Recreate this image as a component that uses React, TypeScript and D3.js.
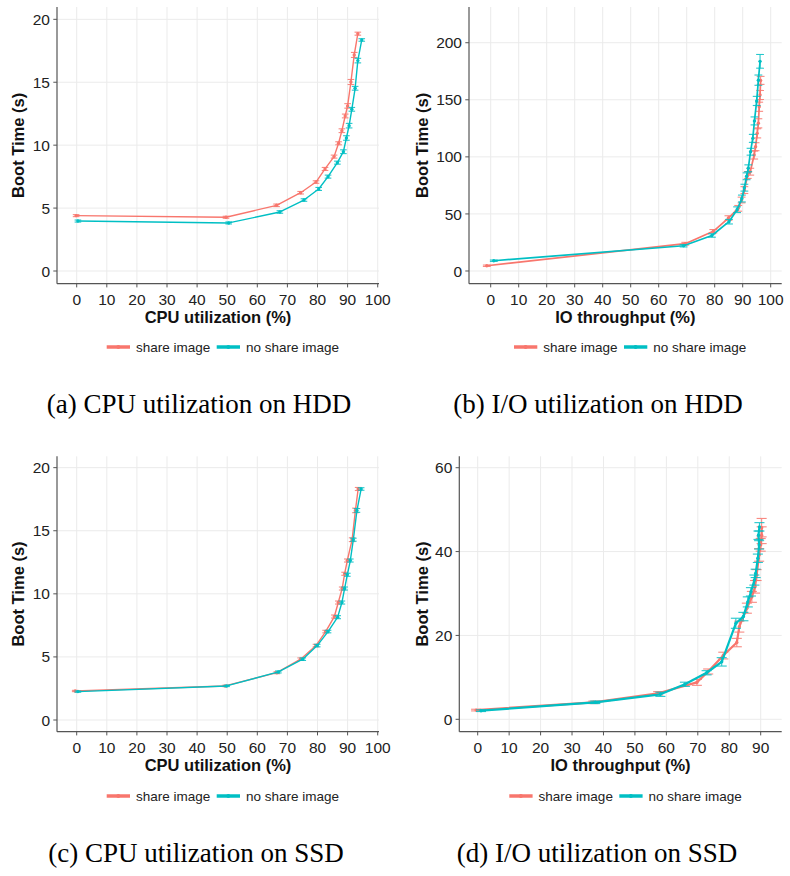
import React from 'react';
import * as d3 from 'd3';

type P = [number, number, number]; // x, y, error

const seriesNames = ['share image', 'no share image'];
const seriesColors = ['#F8766D', '#00BFC4'];

// (a) CPU utilization on HDD
const cpuHddShare: P[] = [
  [-0.2, 4.4, 0.08], [49.6, 4.27, 0.08], [66.4, 5.22, 0.1], [74.4, 6.22, 0.1], [79.5, 7.07, 0.1],
  [82.5, 8.11, 0.12], [85.5, 9.09, 0.12], [87.0, 10.15, 0.12], [88.1, 11.15, 0.15], [89.2, 12.32, 0.15],
  [90.0, 13.12, 0.18], [91.1, 15.02, 0.2], [92.2, 17.17, 0.2], [93.4, 18.86, 0.12],
];
const cpuHddNoShare: P[] = [
  [0.4, 3.97, 0.08], [50.5, 3.82, 0.08], [67.5, 4.69, 0.1], [75.5, 5.64, 0.1], [80.4, 6.52, 0.12],
  [83.5, 7.5, 0.12], [86.6, 8.61, 0.12], [88.6, 9.48, 0.15], [89.6, 10.57, 0.18], [90.5, 11.55, 0.18],
  [91.4, 12.85, 0.15], [92.5, 14.52, 0.15], [93.4, 16.72, 0.18], [94.7, 18.36, 0.1],
];

// (b) I/O utilization on HDD
const ioHddShare: P[] = [
  [-1.4, 4.6, 0.6], [69.5, 23.9, 1.2], [79.5, 34.8, 1.5], [84.9, 46.4, 2], [88.4, 54.9, 2.5],
  [89.6, 62.2, 2.5], [90.6, 70.9, 3], [91.8, 84.1, 3], [92.7, 87.0, 3], [94.1, 101.6, 3.5],
  [94.6, 108.9, 3.5], [95.2, 120.6, 4], [95.6, 129.4, 4], [95.9, 143.9, 4], [96.2, 154.2, 4], [96.4, 167.0, 3.5],
];
const ioHddNoShare: P[] = [
  [1.1, 9.0, 0.6], [68.9, 22.1, 1], [79.0, 31.1, 1.5], [85.1, 43.2, 2], [88.0, 53.7, 2.5],
  [89.7, 63.5, 3], [90.6, 73.0, 3], [91.4, 83.0, 3], [92.0, 90.0, 3], [92.8, 104.5, 3],
  [93.6, 116.2, 3.5], [94.2, 131.5, 3.5], [95.0, 149.0, 4], [95.6, 167.2, 4.5], [96.2, 183.7, 6],
];

// (c) CPU utilization on SSD
const cpuSsdShare: P[] = [
  [-0.5, 2.3, 0.05], [49.3, 2.7, 0.05], [66.5, 3.75, 0.08], [74.4, 4.82, 0.1], [79.5, 5.9, 0.1],
  [82.7, 7.01, 0.1], [85.6, 8.2, 0.12], [86.9, 9.31, 0.12], [88.2, 10.42, 0.12], [89.0, 11.59, 0.12],
  [89.9, 12.64, 0.12], [91.5, 14.29, 0.15], [92.6, 16.61, 0.18], [93.5, 18.31, 0.12],
];
const cpuSsdNoShare: P[] = [
  [0.4, 2.25, 0.05], [49.8, 2.7, 0.05], [67.0, 3.81, 0.08], [75.1, 4.82, 0.1], [79.9, 5.9, 0.1],
  [83.5, 7.01, 0.1], [86.7, 8.15, 0.12], [88.1, 9.31, 0.12], [89.0, 10.42, 0.12], [89.9, 11.51, 0.12],
  [90.9, 12.64, 0.12], [91.9, 14.29, 0.12], [93.1, 16.61, 0.15], [94.5, 18.31, 0.1],
];

// (d) I/O utilization on SSD
const ioSsdShare: P[] = [
  [-0.5, 2.2, 0.2], [36.8, 4.05, 0.3], [57.4, 6.2, 0.4], [69.7, 8.8, 0.7], [73.3, 11.4, 0.6],
  [78.1, 15.2, 0.8], [82.4, 18.3, 1], [83.2, 22.1, 1.3], [85.6, 26.5, 1.2], [87.2, 29.2, 1.3],
  [88.2, 31.6, 1.5], [88.7, 34.4, 1.3], [89.5, 39.2, 1.5], [90.0, 41.6, 1.5], [90.3, 43.9, 2], [90.3, 45.7, 2.2],
];
const ioSsdNoShare: P[] = [
  [1.05, 2.05, 0.2], [37.4, 4.05, 0.3], [58.1, 5.96, 0.5], [65.9, 8.35, 0.5], [72.8, 11.1, 0.5],
  [77.6, 13.7, 1], [82.1, 22.9, 1.2], [84.5, 24.5, 1], [85.9, 28.0, 1.2], [86.9, 30.4, 1],
  [88.0, 33.2, 1.2], [88.4, 34.8, 1], [89.1, 38.4, 1], [89.5, 41.6, 1], [89.3, 43.9, 1], [89.6, 45.9, 1],
];

const xTicks100 = [0, 10, 20, 30, 40, 50, 60, 70, 80, 90, 100];
const xTicks90 = [0, 10, 20, 30, 40, 50, 60, 70, 80, 90];
const yTicksCpu = [0, 5, 10, 15, 20];
const yTicksIoHdd = [0, 50, 100, 150, 200];
const yTicksIoSsd = [0, 20, 40, 60];

const xTitles = ['CPU utilization (%)', 'IO throughput (%)', 'CPU utilization (%)', 'IO throughput (%)'];
const yTitle = 'Boot Time (s)';
const captions = ['(a) CPU utilization on HDD', '(b) I/O utilization on HDD', '(c) CPU utilization on SSD', '(d) I/O utilization on SSD'];

interface PanelCfg {
  left: number; right: number; top: number; bottom: number;
  xDomain: [number, number]; yDomain: [number, number];
  xTicks: number[]; yTicks: number[];
  series: P[][]; xTitle: string; caption: string;
  yTitleX: number; legendX: number; legendY: number;
  captionX: number; captionY: number; capW: number; lineW: number;
}

const panels: PanelCfg[] = [
  {
    left: 57, right: 379, top: 7, bottom: 283.7, xDomain: [-6.545, 100.43], yDomain: [-1.009, 20.98],
    xTicks: xTicks100, yTicks: yTicksCpu, series: [cpuHddShare, cpuHddNoShare], xTitle: xTitles[0], caption: captions[0],
    yTitleX: 24, legendX: 106.7, legendY: 347, captionX: 199, captionY: 413, capW: 2.2, lineW: 1.4,
  },
  {
    left: 469, right: 781.7, top: 7, bottom: 283.7, xDomain: [-7.75, 103.93], yDomain: [-11.13, 231.3],
    xTicks: xTicks100, yTicks: yTicksIoHdd, series: [ioHddShare, ioHddNoShare], xTitle: xTitles[1], caption: captions[1],
    yTitleX: 427.5, legendX: 514, legendY: 347, captionX: 598, captionY: 413, capW: 2.8, lineW: 1.7,
  },
  {
    left: 57, right: 379, top: 456.3, bottom: 731.7, xDomain: [-6.545, 100.43], yDomain: [-0.927, 20.9],
    xTicks: xTicks100, yTicks: yTicksCpu, series: [cpuSsdShare, cpuSsdNoShare], xTitle: xTitles[2], caption: captions[2],
    yTitleX: 24, legendX: 106.7, legendY: 796, captionX: 196, captionY: 862, capW: 2.2, lineW: 1.4,
  },
  {
    left: 459.3, right: 781.7, top: 456.3, bottom: 731.7, xDomain: [-5.85, 96.68], yDomain: [-2.957, 62.72],
    xTicks: xTicks90, yTicks: yTicksIoSsd, series: [ioSsdShare, ioSsdNoShare], xTitle: xTitles[3], caption: captions[3],
    yTitleX: 427.5, legendX: 509.3, legendY: 796, captionX: 597, captionY: 862, capW: 3.2, lineW: 2.2,
  },
];

const SANS = '"Liberation Sans", Arial, Helvetica, sans-serif';
const SERIF = '"Liberation Serif", "Times New Roman", serif';

function Panel({ cfg }: { cfg: PanelCfg }) {
  const x = d3.scaleLinear().domain(cfg.xDomain).range([cfg.left, cfg.right]);
  const y = d3.scaleLinear().domain(cfg.yDomain).range([cfg.bottom, cfg.top]);
  const line = d3.line<P>().x((d) => x(d[0])).y((d) => y(d[1]));
  const cx = (cfg.left + cfg.right) / 2;
  const cy = (cfg.top + cfg.bottom) / 2;
  return (
    <g>
      {/* grid */}
      {cfg.xTicks.map((t) => (
        <line key={'gx' + t} x1={x(t)} x2={x(t)} y1={cfg.top} y2={cfg.bottom} stroke="#ebebeb" strokeWidth={1} />
      ))}
      {cfg.yTicks.map((t) => (
        <line key={'gy' + t} x1={cfg.left} x2={cfg.right} y1={y(t)} y2={y(t)} stroke="#ebebeb" strokeWidth={1} />
      ))}
      {/* series */}
      {cfg.series.map((s, i) => (
        <g key={'s' + i}>
          <path d={line(s) || ''} fill="none" stroke={seriesColors[i]} strokeWidth={cfg.lineW} strokeLinejoin="round" />
          {s.map((d, j) => {
            const xl = x(d[0] - cfg.capW / 2);
            const xr = x(d[0] + cfg.capW / 2);
            const yt = y(d[1] + d[2]);
            const yb = y(d[1] - d[2]);
            return (
              <g key={j} stroke={seriesColors[i]} strokeWidth={1.1} opacity={0.85}>
                <line x1={x(d[0])} x2={x(d[0])} y1={yt} y2={yb} />
                <line x1={xl} x2={xr} y1={yt} y2={yt} />
                <line x1={xl} x2={xr} y1={yb} y2={yb} />
              </g>
            );
          })}
          {s.map((d, j) => (
            <circle key={'p' + j} cx={x(d[0])} cy={y(d[1])} r={1.7} fill={seriesColors[i]} />
          ))}
        </g>
      ))}
      {/* axes */}
      <line x1={cfg.left} x2={cfg.left} y1={cfg.top} y2={cfg.bottom} stroke="#555" strokeWidth={1.2} />
      <line x1={cfg.left} x2={cfg.right} y1={cfg.bottom} y2={cfg.bottom} stroke="#555" strokeWidth={1.2} />
      {cfg.xTicks.map((t) => (
        <g key={'tx' + t}>
          <line x1={x(t)} x2={x(t)} y1={cfg.bottom} y2={cfg.bottom + 3.7} stroke="#555" strokeWidth={1} />
          <text x={x(t)} y={cfg.bottom + 21} textAnchor="middle" fontFamily={SANS} fontSize={15.5} fill="#222">{t}</text>
        </g>
      ))}
      {cfg.yTicks.map((t) => (
        <g key={'ty' + t}>
          <line x1={cfg.left - 3.7} x2={cfg.left} y1={y(t)} y2={y(t)} stroke="#555" strokeWidth={1} />
          <text x={cfg.left - 7} y={y(t)} dy="0.36em" textAnchor="end" fontFamily={SANS} fontSize={15.5} fill="#222">{t}</text>
        </g>
      ))}
      <text x={cx} y={cfg.bottom + 39} textAnchor="middle" fontFamily={SANS} fontWeight="bold" fontSize={16.5} fill="#111">{cfg.xTitle}</text>
      <text transform={`translate(${cfg.yTitleX},${cy}) rotate(-90)`} textAnchor="middle" fontFamily={SANS} fontWeight="bold" fontSize={16.5} fill="#111">{yTitle}</text>
      {/* legend */}
      {seriesNames.map((n, i) => {
        const lx = cfg.legendX + i * 110;
        return (
          <g key={'l' + i}>
            <line x1={lx} x2={lx + 23.3} y1={cfg.legendY} y2={cfg.legendY} stroke={seriesColors[i]} strokeWidth={3.5} />
            <circle cx={lx + 11.6} cy={cfg.legendY} r={2} fill={seriesColors[i]} />
            <text x={lx + 29.3} y={cfg.legendY} dy="0.36em" fontFamily={SANS} fontSize={13.5} fill="#222">{n}</text>
          </g>
        );
      })}
      <text x={cfg.captionX} y={cfg.captionY} textAnchor="middle" fontFamily={SERIF} fontSize={27} fill="#000">{cfg.caption}</text>
    </g>
  );
}

export default function App() {
  return (
    <svg width={790} height={876} style={{ position: 'absolute', left: 0, top: 0, background: '#fff' }}>
      <rect x={0} y={0} width={790} height={876} fill="#fff" />
      {panels.map((p, i) => (
        <Panel key={i} cfg={p} />
      ))}
    </svg>
  );
}
